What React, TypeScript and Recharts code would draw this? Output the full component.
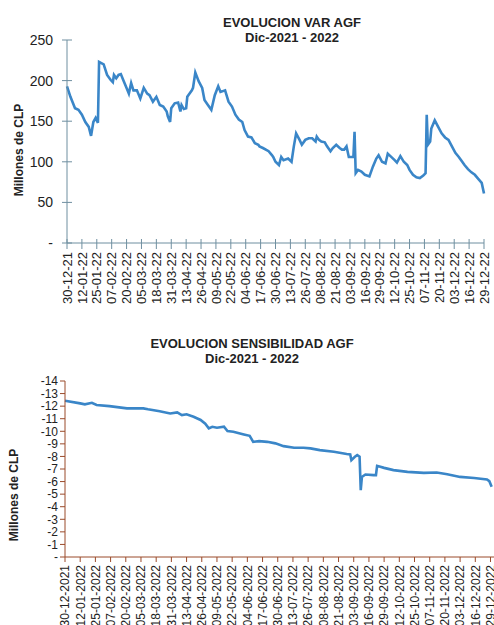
import { LineChart, Line, XAxis, YAxis } from 'recharts';

// days counted from 30-12-2021
const VAR_DAYS = [
    0, 3, 7, 10, 13, 16, 19, 21, 23, 25, 27, 28, 32, 35, 38, 40, 41, 43, 45, 47,
    49, 52, 54, 56, 58, 61, 64, 67, 70, 72, 75, 78, 81, 84, 87, 88, 90, 91, 94, 97,
    99, 100, 102, 104, 105, 107, 109, 110, 112, 115, 118, 120, 123, 126, 129, 132, 134, 138, 141, 144,
    147, 150, 153, 155, 158, 161, 164, 167, 168, 171, 176, 179, 180, 182, 185, 187, 189, 193, 196, 198,
    200, 203, 205, 208, 211, 214, 217, 218, 220, 222, 225, 227, 230, 232, 235, 238, 240, 242, 244, 246,
    248, 250, 251, 252, 254, 257, 260, 264, 267, 270, 272, 275, 278, 280, 283, 286, 288, 291, 294, 297,
    299, 302, 305, 308, 311, 313, 314, 315, 317, 318, 321, 324, 327, 330, 333, 336, 339, 342, 345, 347,
    350, 353, 356, 359, 362, 364,
];
const VAR_VALUES = [
    193, 180, 166, 164, 158, 149, 143, 132, 149, 154, 148, 223, 220, 207, 201, 198, 207, 203, 207, 208,
    201, 191, 184, 197, 188, 188, 178, 191, 184, 182, 174, 180, 170, 168, 162, 156, 149, 166, 172, 173,
    162, 170, 165, 166, 180, 184, 188, 191, 210, 199, 191, 176, 170, 164, 182, 193, 186, 188, 174, 168,
    158, 152, 149, 139, 131, 130, 123, 121, 119, 117, 113, 108, 106, 100, 96, 106, 102, 104, 100, 119,
    135, 127, 121, 127, 129, 129, 125, 131, 127, 125, 124, 119, 113, 117, 121, 117, 115, 115, 119, 106,
    106, 106, 137, 86, 90, 88, 84, 82, 94, 104, 108, 100, 98, 110, 106, 102, 99, 107, 100, 96,
    90, 84, 81, 80, 83, 86, 158, 121, 125, 141, 151, 143, 135, 130, 127, 119, 111, 106, 100, 96,
    91, 87, 84, 79, 74, 61,
];

const SENS_DAYS = [
    0, 13, 17, 23, 27, 38, 53, 67, 71, 81, 90, 96, 100, 104, 110, 116, 120, 123, 126, 130,
    136, 139, 144, 153, 158, 161, 166, 173, 180, 187, 196, 204, 210, 218, 230, 241, 244, 245, 248, 250,
    252, 253, 254, 257, 264, 266, 267, 273, 281, 293, 307, 318, 327, 338, 350, 361, 363, 365,
];
const SENS_VALUES = [
    -12.43, -12.22, -12.14, -12.27, -12.09, -12.0, -11.82, -11.82, -11.75, -11.6, -11.42, -11.5, -11.29, -11.35, -11.16, -10.9, -10.6, -10.23, -10.36, -10.28,
    -10.36, -10.02, -9.96, -9.75, -9.64, -9.16, -9.22, -9.16, -9.04, -8.82, -8.69, -8.69, -8.64, -8.5, -8.37, -8.2, -8.16, -7.7, -7.97, -8.1,
    -7.97, -5.31, -6.37, -6.56, -6.51, -6.51, -7.25, -7.09, -6.91, -6.77, -6.69, -6.72, -6.59, -6.37, -6.29, -6.17, -6.03, -5.58,
];

const TICK_DAYS = [
    0, 13, 26, 39, 52, 65, 78, 91, 104, 117, 130, 143, 156, 169, 182,
    195, 208, 221, 234, 247, 260, 273, 286, 299, 312, 325, 338, 351, 364,
];
const VAR_TICK_LABELS = [
    '30-12-21', '12-01-22', '25-01-22', '07-02-22', '20-02-22', '05-03-22', '18-03-22', '31-03-22',
    '13-04-22', '26-04-22', '09-05-22', '22-05-22', '04-06-22', '17-06-22', '30-06-22', '13-07-22',
    '26-07-22', '08-08-22', '21-08-22', '03-09-22', '16-09-22', '29-09-22', '12-10-22', '25-10-22',
    '07-11-22', '20-11-22', '03-12-22', '16-12-22', '29-12-22',
];
const SENS_TICK_LABELS = [
    '30-12-2021', '12-01-2022', '25-01-2022', '07-02-2022', '20-02-2022', '05-03-2022', '18-03-2022', '31-03-2022',
    '13-04-2022', '26-04-2022', '09-05-2022', '22-05-2022', '04-06-2022', '17-06-2022', '30-06-2022', '13-07-2022',
    '26-07-2022', '08-08-2022', '21-08-2022', '03-09-2022', '16-09-2022', '29-09-2022', '12-10-2022', '25-10-2022',
    '07-11-2022', '20-11-2022', '03-12-2022', '16-12-2022', '29-12-2022',
];

const VAR_Y_TICKS = [0, 50, 100, 150, 200, 250];
const SENS_Y_TICKS = [-14, -13, -12, -11, -10, -9, -8, -7, -6, -5, -4, -3, -2, -1, 0];

const LINE_COLOR = '#3a86c8';
const FONT = '"Liberation Sans", Arial, sans-serif';

const varData = VAR_DAYS.map((d, i) => ({ day: d, value: VAR_VALUES[i] }));
const sensData = SENS_DAYS.map((d, i) => ({ day: d, value: SENS_VALUES[i] }));

function XTick({ x, y, payload, labels, color, up, down, size }: any) {
    const idx = TICK_DAYS.indexOf(payload.value);
    return (
        <g>
            <line x1={x} x2={x} y1={y - up} y2={y + down} stroke={color} strokeWidth={1} />
            <text
                x={x}
                y={y + down + 3}
                transform={`rotate(-90, ${x}, ${y + down + 3})`}
                textAnchor="end"
                dy="0.36em"
                fontSize={size}
                fill="#222"
                fontFamily={FONT}
            >
                {labels[idx]}
            </text>
        </g>
    );
}

function YTick({ x, y, payload, color, left, right, gap, size }: any) {
    return (
        <g>
            <line x1={x - left} x2={x + right} y1={y} y2={y} stroke={color} strokeWidth={1} />
            <text x={x - gap} y={y} dy="0.36em" textAnchor="end" fontSize={size} fill="#222" fontFamily={FONT}>
                {payload.value === 0 ? '-' : payload.value}
            </text>
        </g>
    );
}

const titleStyle: React.CSSProperties = {
    position: 'absolute',
    fontFamily: FONT,
    fontWeight: 'bold',
    fontSize: 13,
    color: '#222',
    textAlign: 'center',
    lineHeight: '15px',
    whiteSpace: 'nowrap',
};

const yLabelStyle: React.CSSProperties = {
    position: 'absolute',
    fontFamily: FONT,
    fontWeight: 'bold',
    fontSize: 12,
    color: '#222',
    whiteSpace: 'nowrap',
    transform: 'translate(-50%, -50%) rotate(-90deg)',
};

export default function App() {
    const axis1 = '#6f8fa0';
    const axis2 = '#9a4a2a';
    return (
        <div style={{ position: 'absolute', left: 0, top: 0, width: 494, height: 625, background: '#fff', overflow: 'hidden' }}>
            {/* VAR chart */}
            <div style={{ ...titleStyle, left: 192, width: 200, top: 15 }}>
                EVOLUCION VAR AGF
                <br />
                Dic-2021 - 2022
            </div>
            <div style={{ ...yLabelStyle, left: 19, top: 150 }}>Millones de CLP</div>
            <div style={{ position: 'absolute', left: 0, top: 0 }}>
                <LineChart width={494} height={310} data={varData} margin={{ top: 40, right: 10, left: 0, bottom: 0 }}>
                    <XAxis
                        dataKey="day"
                        type="number"
                        domain={[0, 364]}
                        ticks={TICK_DAYS}
                        interval={0}
                        height={67}
                        tickSize={0}
                        tickMargin={0}
                        tickLine={false}
                        stroke={axis1}
                        tick={<XTick labels={VAR_TICK_LABELS} color={axis1} up={4} down={6} size={13} />}
                    />
                    <YAxis
                        type="number"
                        domain={[0, 250]}
                        ticks={VAR_Y_TICKS}
                        interval={0}
                        width={67}
                        tickSize={0}
                        tickMargin={0}
                        tickLine={false}
                        stroke={axis1}
                        tick={<YTick color={axis1} left={5} right={5} gap={14} size={14} />}
                    />
                    <Line
                        type="linear"
                        dataKey="value"
                        stroke={LINE_COLOR}
                        strokeWidth={2.6}
                        dot={false}
                        isAnimationActive={false}
                    />
                </LineChart>
            </div>

            {/* Sensibilidad chart */}
            <div style={{ ...titleStyle, left: 132, width: 240, top: 336 }}>
                EVOLUCION SENSIBILIDAD AGF
                <br />
                Dic-2021 - 2022
            </div>
            <div style={{ ...yLabelStyle, left: 14, top: 495 }}>Millones de CLP</div>
            <div style={{ position: 'absolute', left: 0, top: 320 }}>
                <LineChart width={494} height={305} data={sensData} margin={{ top: 61, right: 0, left: 0, bottom: 0 }}>
                    <XAxis
                        dataKey="day"
                        type="number"
                        domain={[0, 367]}
                        ticks={TICK_DAYS}
                        interval={0}
                        height={68}
                        tickSize={0}
                        tickMargin={0}
                        tickLine={false}
                        stroke={axis2}
                        tick={<XTick labels={SENS_TICK_LABELS} color={axis2} up={0} down={5} size={12} />}
                    />
                    <YAxis
                        type="number"
                        domain={[-14, 0]}
                        reversed
                        ticks={SENS_Y_TICKS}
                        interval={0}
                        width={65}
                        tickSize={0}
                        tickMargin={0}
                        tickLine={false}
                        stroke={axis2}
                        tick={<YTick color={axis2} left={5} right={0} gap={7} size={12} />}
                    />
                    <Line
                        type="linear"
                        dataKey="value"
                        stroke={LINE_COLOR}
                        strokeWidth={2.6}
                        dot={false}
                        isAnimationActive={false}
                    />
                </LineChart>
            </div>
        </div>
    );
}
